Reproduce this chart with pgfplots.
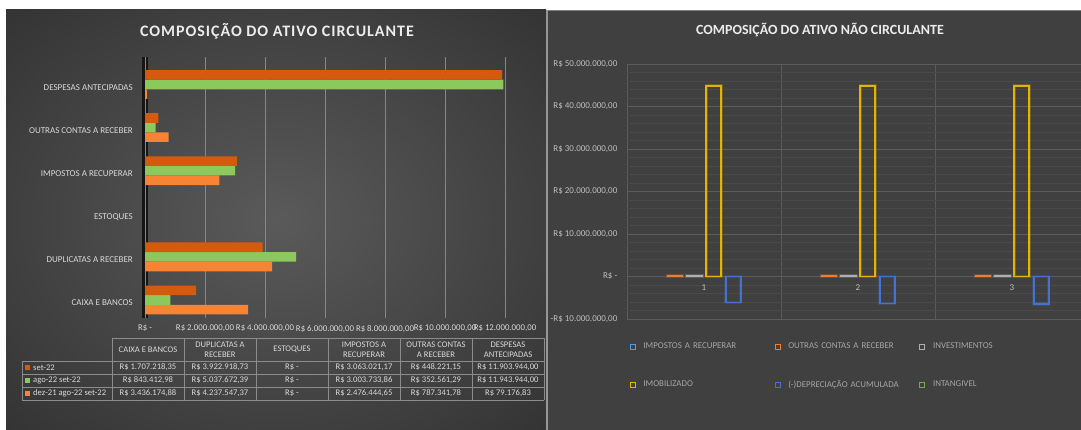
\documentclass[border=0pt]{standalone}
\usepackage{fontspec}
\setmainfont{Carlito}
\usepackage{pgfplots}
\pgfplotsset{compat=1.18}
\definecolor{setc}{RGB}{214,90,14}
\definecolor{agoc}{RGB}{140,200,92}
\definecolor{dezc}{RGB}{246,132,52}
\definecolor{lbl}{RGB}{217,217,217}
\definecolor{ttl}{RGB}{236,236,236}
\definecolor{gridl}{RGB}{135,135,135}
\definecolor{wallc}{RGB}{22,22,22}
\definecolor{lc1}{RGB}{90,90,90}
\definecolor{lc2}{RGB}{36,36,36}
\definecolor{rbg}{RGB}{64,64,64}
\definecolor{sepc}{RGB}{150,150,150}
\definecolor{rgrid}{RGB}{92,92,92}
\definecolor{rminor}{RGB}{74,74,74}
\definecolor{rlbl}{RGB}{190,190,190}
\definecolor{legc}{RGB}{166,166,166}
\definecolor{tblc}{RGB}{140,140,140}
\definecolor{cimp}{RGB}{91,155,213}
\definecolor{corange}{RGB}{237,125,49}
\definecolor{cgray}{RGB}{175,175,175}
\definecolor{cgold}{RGB}{230,180,0}
\definecolor{cdep}{RGB}{68,114,210}
\definecolor{cgreen}{RGB}{112,173,71}
\pgfdeclareradialshading{lpanel}{\pgfpoint{0bp}{0bp}}{color(0bp)=(lc1); color(50bp)=(lc2)}
\begin{document}
\begin{tikzpicture}
\useasboundingbox (0pt,0pt) rectangle (1081pt,430pt);
\clip (0pt,0pt) rectangle (1081pt,430pt);
\begin{scope}[x=1pt,y=1pt]
\fill[white] (0,0) rectangle (1081,430);
% panels
\shade[shading=lpanel] (6,0) rectangle (546,420);
\fill[sepc] (546,0) rectangle (548,420);
\fill[rbg] (548,0) rectangle (1081,420);
\draw[gray, line width=0.6pt] (548,419.7) -- (1081,419.7);
% titles
\node[text=ttl, font=\fontsize{16}{18}\selectfont\bfseries\addfontfeatures{LetterSpace=6}] at (277,399) {COMPOSIÇÃO DO ATIVO CIRCULANTE};
\node[text=ttl, font=\fontsize{14}{16}\selectfont\bfseries] at (820,400) {COMPOSIÇÃO DO ATIVO NÃO CIRCULANTE};
% 3D wall of left chart
\fill[wallc] (142,112) rectangle (147.5,373);
% data table
\begin{scope}[tblc, line width=0.8pt]
\draw (112,92) -- (544,92);
\foreach \yy in {69,56,43,30} \draw (22,\yy) -- (544,\yy);
\foreach \xx in {112,184,256,328,400,472,544} \draw (\xx,92) -- (\xx,30);
\draw (22,69) -- (22,30);
\end{scope}
\begin{scope}[every node/.style={text=lbl, font=\fontsize{8.6}{9.6}\selectfont, align=center, inner sep=0pt}]
\node at (148,80.5) {CAIXA E BANCOS};
\node at (220,80.5) {DUPLICATAS A\\RECEBER};
\node at (292,80.5) {ESTOQUES};
\node at (364,80.5) {IMPOSTOS A\\RECUPERAR};
\node at (436,80.5) {OUTRAS CONTAS\\A RECEBER};
\node at (508,80.5) {DESPESAS\\ANTECIPADAS};
\node at (148,62.5) {R\$ 1.707.218,35};
\node at (220,62.5) {R\$ 3.922.918,73};
\node at (292,62.5) {R\$ -};
\node at (364,62.5) {R\$ 3.063.021,17};
\node at (436,62.5) {R\$ 448.221,15};
\node at (508,62.5) {R\$ 11.903.944,00};
\node at (148,49.5) {R\$ 843.412,98};
\node at (220,49.5) {R\$ 5.037.672,39};
\node at (292,49.5) {R\$ -};
\node at (364,49.5) {R\$ 3.003.733,86};
\node at (436,49.5) {R\$ 352.561,29};
\node at (508,49.5) {R\$ 11.943.944,00};
\node at (148,36.5) {R\$ 3.436.174,88};
\node at (220,36.5) {R\$ 4.237.547,37};
\node at (292,36.5) {R\$ -};
\node at (364,36.5) {R\$ 2.476.444,65};
\node at (436,36.5) {R\$ 787.341,78};
\node at (508,36.5) {R\$ 79.176,83};
\node[anchor=west] at (33,62.5) {set-22};
\node[anchor=west] at (33,49.5) {ago-22 set-22};
\node[anchor=west] at (33,36.5) {dez-21 ago-22 set-22};
\end{scope}
\fill[setc] (25,60) rectangle (30,65);
\fill[agoc] (25,47) rectangle (30,52);
\fill[dezc] (25,34) rectangle (30,39);
\end{scope}
\begin{axis}[
  at={(145pt,112pt)}, anchor=south west,
  scale only axis, width=360pt, height=261pt,
  xbar, bar width=9.6pt,
  xmin=0, xmax=12000000, ymin=-0.418, ymax=5.638,
  scaled x ticks=false,
  axis line style={draw=none},
  xtick={0,2000000,4000000,6000000,8000000,10000000,12000000},
  xticklabels={{R\$ -},{R\$ 2.000.000,00},{R\$ 4.000.000,00},{R\$ 6.000.000,00},{R\$ 8.000.000,00},{R\$ 10.000.000,00},{R\$ 12.000.000,00}},
  ytick={0,1,2,3,4,5},
  yticklabels={CAIXA E BANCOS, DUPLICATAS A RECEBER, ESTOQUES, IMPOSTOS A RECUPERAR, OUTRAS CONTAS A RECEBER, DESPESAS ANTECIPADAS},
  major tick length=0pt,
  xmajorgrids, major grid style={gridl, line width=0.8pt},
  tick label style={text=lbl},
  yticklabel style={font=\fontsize{9}{10}\selectfont, anchor=east, inner sep=0pt, xshift=-12pt, yshift=-3pt},
  xticklabel style={font=\fontsize{8.8}{10}\selectfont, anchor=north, inner sep=0pt, yshift=-7pt},
]
\addplot[fill=dezc, draw=none, bar shift=-9.6pt] coordinates {(3436174.88,0) (4237547.37,1) (0,2) (2476444.65,3) (787341.78,4) (79176.83,5)};
\addplot[fill=agoc, draw=none, bar shift=0pt] coordinates {(843412.98,0) (5037672.39,1) (0,2) (3003733.86,3) (352561.29,4) (11943944.00,5)};
\addplot[fill=setc, draw=none, bar shift=9.6pt] coordinates {(1707218.35,0) (3922918.73,1) (0,2) (3063021.17,3) (448221.15,4) (11903944.00,5)};
\end{axis}
\begin{axis}[
  at={(627pt,111pt)}, anchor=south west,
  scale only axis, width=462pt, height=255pt,
  ybar, bar width=15pt,
  xmin=0.5, xmax=3.5, ymin=-10000000, ymax=50000000,
  scaled y ticks=false, scaled x ticks=false,
  axis line style={draw=none},
  xtick={0.5,1.5,2.5,3.5}, xticklabels={},
  extra x ticks={1,2,3}, extra x tick labels={1,2,3},
  extra x tick style={grid=none},
  ytick={-10000000,0,10000000,20000000,30000000,40000000,50000000},
  yticklabels={{-R\$ 10.000.000,00},{R\$ -},{R\$ 10.000.000,00},{R\$ 20.000.000,00},{R\$ 30.000.000,00},{R\$ 40.000.000,00},{R\$ 50.000.000,00}},
  minor y tick num=4,
  xmajorgrids, ymajorgrids, yminorgrids,
  major grid style={rgrid, line width=0.8pt},
  minor grid style={rminor, line width=0.6pt},
  major tick length=0pt, minor tick length=0pt,
  tick label style={font=\fontsize{9}{10}\selectfont, text=rlbl},
  yticklabel style={anchor=east, inner sep=0pt, xshift=-9.5pt},
  xticklabel style={anchor=center, inner sep=0pt, yshift=31pt},
  legend image code/.code={\draw[#1, line width=0.8pt, fill=none] (0pt,-2.5pt) rectangle (5pt,2.5pt);},
  legend columns=3,
  legend style={at={(0.0054,-0.085)}, anchor=north west, draw=none, fill=none, inner sep=0pt,
    font=\fontsize{8.9}{10}\selectfont, text=legc, row sep=26pt,
    nodes={text width=121pt, align=left, inner sep=2pt},
    /tikz/every odd column/.append style={column sep=6pt},
    /tikz/every even column/.append style={column sep=8pt}},
  every axis plot/.append style={fill=none, line width=1.8pt},
]
\addlegendimage{draw=cimp, fill=none}
\addlegendentry{IMPOSTOS A RECUPERAR}
\addlegendimage{draw=corange, fill=none}
\addlegendentry{OUTRAS CONTAS A RECEBER}
\addlegendimage{draw=cgray, fill=none}
\addlegendentry{INVESTIMENTOS}
\addlegendimage{draw=cgold, fill=none}
\addlegendentry{IMOBILIZADO}
\addlegendimage{draw=cdep, fill=none}
\addlegendentry{(-)DEPRECIAÇÃO ACUMULADA}
\addlegendimage{draw=cgreen, fill=none}
\addlegendentry{INTANGIVEL}
\addplot[forget plot, draw=corange, preaction={draw=corange, line width=3.4pt, opacity=0.25}, bar shift=-29.1pt] coordinates {(1,250000) (2,250000) (3,250000)};
\addplot[forget plot, draw=cgray, preaction={draw=cgray, line width=3.4pt, opacity=0.25}, bar shift=-9.7pt] coordinates {(1,200000) (2,200000) (3,200000)};
\addplot[forget plot, draw=cgold, preaction={draw=cgold, line width=3.4pt, opacity=0.25}, bar shift=9.7pt] coordinates {(1,44900000) (2,44900000) (3,44900000)};
\addplot[forget plot, draw=cdep, preaction={draw=cdep, line width=3.4pt, opacity=0.25}, bar shift=29.1pt] coordinates {(1,-6100000) (2,-6350000) (3,-6500000)};
\end{axis}
\end{tikzpicture}
\end{document}
